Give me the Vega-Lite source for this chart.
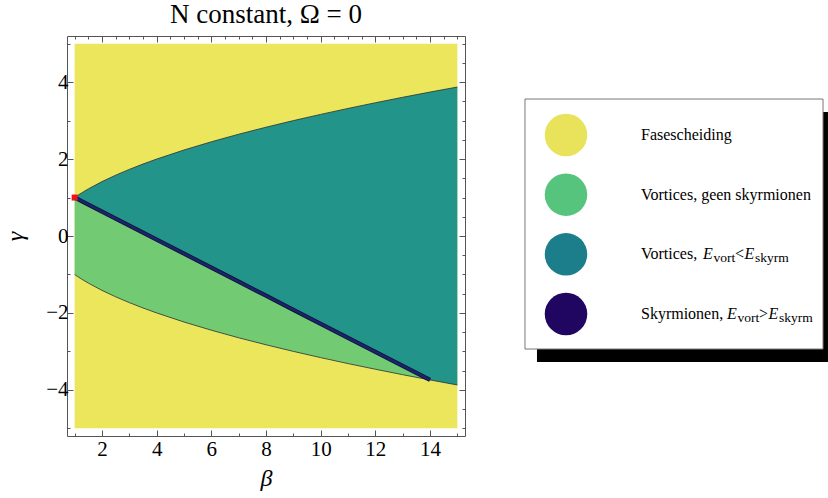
{
  "$schema": "https://vega.github.io/schema/vega-lite/v6.json",
  "width": 398,
  "height": 400,
  "autosize": {"type": "none"},
  "padding": {"left": 67, "top": 36, "right": 363, "bottom": 62},
  "background": "white",
  "config": {"view": {"stroke": "#555555", "strokeWidth": 1}, "font": "Liberation Serif"},
  "title": {"text": "N constant, Ω = 0", "font": "Liberation Serif", "fontSize": 27, "fontWeight": "normal", "color": "black", "anchor": "middle", "offset": 9, "baseline": "alphabetic", "dy": 26},
  "datasets": {
    "frame": [{"b": 1, "b2": 15, "g": -5, "g2": 5}],
    "regions": [
      {"b": 1, "up": 1, "mid": 1, "low": -1},
      {"b": 1.1, "up": 1.049, "mid": 0.964, "low": -1.049},
      {"b": 1.25, "up": 1.118, "mid": 0.909, "low": -1.118},
      {"b": 1.5, "up": 1.225, "mid": 0.818, "low": -1.225},
      {"b": 2, "up": 1.414, "mid": 0.635, "low": -1.414},
      {"b": 2.5, "up": 1.581, "mid": 0.453, "low": -1.581},
      {"b": 3, "up": 1.732, "mid": 0.271, "low": -1.732},
      {"b": 3.5, "up": 1.871, "mid": 0.088, "low": -1.871},
      {"b": 4, "up": 2, "mid": -0.094, "low": -2},
      {"b": 5, "up": 2.236, "mid": -0.459, "low": -2.236},
      {"b": 6, "up": 2.449, "mid": -0.824, "low": -2.449},
      {"b": 7, "up": 2.646, "mid": -1.189, "low": -2.646},
      {"b": 8, "up": 2.828, "mid": -1.553, "low": -2.828},
      {"b": 9, "up": 3, "mid": -1.918, "low": -3},
      {"b": 10, "up": 3.162, "mid": -2.283, "low": -3.162},
      {"b": 11, "up": 3.317, "mid": -2.648, "low": -3.317},
      {"b": 12, "up": 3.464, "mid": -3.012, "low": -3.464},
      {"b": 13, "up": 3.606, "mid": -3.377, "low": -3.606},
      {"b": 14, "up": 3.742, "mid": -3.742, "low": -3.742},
      {"b": 15, "up": 3.873, "mid": -3.873, "low": -3.873}
    ],
    "legend": [
      {"rank": 1, "label": "Fasescheiding"},
      {"rank": 2, "label": "Vortices, geen skyrmionen"},
      {"rank": 3, "label": "Vortices,", "e1": "E", "s1": "vort", "rel": "<", "e2": "E", "s2": "skyrm"},
      {"rank": 4, "label": "Skyrmionen,", "e1": "E", "s1": "vort", "rel": ">", "e2": "E", "s2": "skyrm"}
    ]
  },
  "layer": [
    {
      "resolve": {"axis": {"x": "independent", "y": "independent"}},
      "layer": [
        {
          "data": {"name": "frame"},
          "mark": {"type": "rect", "color": "#EBE65B"},
          "encoding": {
            "x": {"field": "b", "type": "quantitative", "scale": {"domain": [0.72, 15.28], "nice": false, "zero": false},
              "axis": {"orient": "bottom", "values": [1,1.5,2,2.5,3,3.5,4,4.5,5,5.5,6,6.5,7,7.5,8,8.5,9,9.5,10,10.5,11,11.5,12,12.5,13,13.5,14,14.5,15],
                "format": "d", "labelExpr": "datum.value % 2 === 0 ? datum.label : ''",
                "tickSize": {"condition": {"test": "datum.value % 2 === 0", "value": -6}, "value": -3},
                "tickColor": "#555555", "domain": false, "grid": false, "labelFont": "Liberation Serif", "labelFontSize": 21, "labelColor": "black",
                "labelPadding": 8, "labelOverlap": false, "labelFlush": false,
                "title": "β", "titleFont": "Liberation Serif", "titleFontStyle": "italic", "titleFontWeight": "normal", "titleFontSize": 24, "titleColor": "black", "titlePadding": 4}},
            "x2": {"field": "b2"},
            "y": {"field": "g", "type": "quantitative", "scale": {"domain": [-5.2, 5.2], "nice": false, "zero": false},
              "axis": {"orient": "left", "values": [-5,-4.5,-4,-3.5,-3,-2.5,-2,-1.5,-1,-0.5,0,0.5,1,1.5,2,2.5,3,3.5,4,4.5,5],
                "format": "d", "labelExpr": "datum.value % 2 === 0 ? datum.label : ''",
                "tickSize": {"condition": {"test": "datum.value % 2 === 0", "value": -6}, "value": -3},
                "tickColor": "#555555", "domain": false, "grid": false, "labelFont": "Liberation Serif", "labelFontSize": 21, "labelColor": "black",
                "labelPadding": 5, "labelOverlap": false, "labelFlush": false,
                "title": "γ", "titleFont": "Liberation Serif", "titleFontStyle": "italic", "titleFontWeight": "normal", "titleFontSize": 24, "titleColor": "black", "titlePadding": 18}},
            "y2": {"field": "g2"}
          }
        },
        {
          "data": {"name": "regions"},
          "mark": {"type": "area", "color": "#22948A"},
          "encoding": {
            "x": {"field": "b", "type": "quantitative", "scale": {"domain": [0.72, 15.28], "nice": false, "zero": false},
              "axis": {"orient": "top", "values": [1,1.5,2,2.5,3,3.5,4,4.5,5,5.5,6,6.5,7,7.5,8,8.5,9,9.5,10,10.5,11,11.5,12,12.5,13,13.5,14,14.5,15],
                "labels": false, "title": null, "domain": false, "grid": false, "tickColor": "#555555",
                "tickSize": {"condition": {"test": "datum.value % 2 === 0", "value": -6}, "value": -3}}},
            "y": {"field": "up", "type": "quantitative", "scale": {"domain": [-5.2, 5.2], "nice": false, "zero": false},
              "axis": {"orient": "right", "values": [-5,-4.5,-4,-3.5,-3,-2.5,-2,-1.5,-1,-0.5,0,0.5,1,1.5,2,2.5,3,3.5,4,4.5,5],
                "labels": false, "title": null, "domain": false, "grid": false, "tickColor": "#555555",
                "tickSize": {"condition": {"test": "datum.value % 2 === 0", "value": -6}, "value": -3}}},
            "y2": {"field": "mid"}
          }
        },
        {
          "data": {"name": "regions"},
          "transform": [{"filter": "datum.b <= 14"}],
          "mark": {"type": "area", "color": "#72CB72"},
          "encoding": {
            "x": {"field": "b", "type": "quantitative", "scale": {"domain": [0.72, 15.28], "nice": false, "zero": false}, "axis": null},
            "y": {"field": "mid", "type": "quantitative", "scale": {"domain": [-5.2, 5.2], "nice": false, "zero": false}, "axis": null},
            "y2": {"field": "low"}
          }
        },
        {
          "data": {"name": "regions"},
          "mark": {"type": "line", "color": "#2E3A3A", "strokeWidth": 1, "opacity": 0.85},
          "encoding": {
            "x": {"field": "b", "type": "quantitative", "scale": {"domain": [0.72, 15.28], "nice": false, "zero": false}, "axis": null},
            "y": {"field": "up", "type": "quantitative", "scale": {"domain": [-5.2, 5.2], "nice": false, "zero": false}, "axis": null}
          }
        },
        {
          "data": {"name": "regions"},
          "mark": {"type": "line", "color": "#2E3A3A", "strokeWidth": 1, "opacity": 0.85},
          "encoding": {
            "x": {"field": "b", "type": "quantitative", "scale": {"domain": [0.72, 15.28], "nice": false, "zero": false}, "axis": null},
            "y": {"field": "low", "type": "quantitative", "scale": {"domain": [-5.2, 5.2], "nice": false, "zero": false}, "axis": null}
          }
        },
        {
          "data": {"name": "regions"},
          "transform": [{"filter": "datum.b <= 14"}],
          "mark": {"type": "line", "color": "#0E1336", "strokeWidth": 4.2},
          "encoding": {
            "x": {"field": "b", "type": "quantitative", "scale": {"domain": [0.72, 15.28], "nice": false, "zero": false}, "axis": null},
            "y": {"field": "mid", "type": "quantitative", "scale": {"domain": [-5.2, 5.2], "nice": false, "zero": false}, "axis": null}
          }
        },
        {
          "data": {"name": "regions"},
          "transform": [{"filter": "datum.b <= 14"}],
          "mark": {"type": "line", "color": "#1C2470", "strokeWidth": 2.4},
          "encoding": {
            "x": {"field": "b", "type": "quantitative", "scale": {"domain": [0.72, 15.28], "nice": false, "zero": false}, "axis": null},
            "y": {"field": "mid", "type": "quantitative", "scale": {"domain": [-5.2, 5.2], "nice": false, "zero": false}, "axis": null}
          }
        },
        {
          "data": {"name": "regions"},
          "transform": [{"filter": "datum.b == 1"}],
          "mark": {"type": "square", "color": "#E8141E", "size": 36, "opacity": 1},
          "encoding": {
            "x": {"field": "b", "type": "quantitative", "scale": {"domain": [0.72, 15.28], "nice": false, "zero": false}, "axis": null},
            "y": {"field": "up", "type": "quantitative", "scale": {"domain": [-5.2, 5.2], "nice": false, "zero": false}, "axis": null}
          }
        }
      ]
    },
    {
      "data": {"name": "legend"},
      "encoding": {
        "x": {"datum": 1, "type": "quantitative", "scale": {"domain": [0, 1], "range": [499, 574], "nice": false, "zero": false}, "axis": null},
        "y": {"field": "rank", "type": "quantitative", "scale": {"domain": [1, 4], "range": [99, 278], "nice": false, "zero": false}, "axis": null}
      },
      "layer": [
        {
          "transform": [{"filter": "datum.rank == 1"}],
          "mark": {"type": "rect", "color": "black"},
          "encoding": {
            "x": {"datum": -0.387, "type": "quantitative", "scale": {"domain": [0, 1], "range": [499, 574], "nice": false, "zero": false}, "axis": null},
            "x2": {"datum": 3.493},
            "y": {"datum": 0.615, "type": "quantitative", "scale": {"domain": [1, 4], "range": [99, 278], "nice": false, "zero": false}, "axis": null},
            "y2": {"datum": 4.804}
          }
        },
        {
          "transform": [{"filter": "datum.rank == 1"}],
          "mark": {"type": "rect", "fill": "white", "stroke": "#777777", "strokeWidth": 1},
          "encoding": {
            "x": {"datum": -0.547, "type": "quantitative", "scale": {"domain": [0, 1], "range": [499, 574], "nice": false, "zero": false}, "axis": null},
            "x2": {"datum": 3.427},
            "y": {"datum": 0.397, "type": "quantitative", "scale": {"domain": [1, 4], "range": [99, 278], "nice": false, "zero": false}, "axis": null},
            "y2": {"datum": 4.587}
          }
        },
        {
          "mark": {"type": "point", "filled": true, "opacity": 1, "size": 1810, "shape": "circle"},
          "encoding": {
            "x": {"datum": 0, "type": "quantitative", "scale": {"domain": [0, 1], "range": [499, 574], "nice": false, "zero": false}, "axis": null},
            "color": {"field": "rank", "type": "ordinal", "scale": {"domain": [1, 2, 3, 4], "range": ["#E8E35A", "#56C47C", "#1C7E8A", "#200660"]}, "legend": null}
          }
        },
        {
          "mark": {"type": "text", "align": "left", "baseline": "middle", "font": "Liberation Serif", "fontSize": 16, "color": "black"},
          "encoding": {"text": {"field": "label"}}
        },
        {
          "transform": [{"filter": "datum.rank == 3"}],
          "mark": {"type": "text", "align": "left", "baseline": "middle", "font": "Liberation Serif", "fontSize": 16, "fontStyle": "italic", "color": "black", "dx": 62},
          "encoding": {"text": {"field": "e1"}}
        },
        {
          "transform": [{"filter": "datum.rank == 3"}],
          "mark": {"type": "text", "align": "left", "baseline": "middle", "font": "Liberation Serif", "fontSize": 13.5, "color": "black", "dx": 72.5, "dy": 4},
          "encoding": {"text": {"field": "s1"}}
        },
        {
          "transform": [{"filter": "datum.rank == 3"}],
          "mark": {"type": "text", "align": "left", "baseline": "middle", "font": "Liberation Serif", "fontSize": 16, "color": "black", "dx": 94},
          "encoding": {"text": {"field": "rel"}}
        },
        {
          "transform": [{"filter": "datum.rank == 3"}],
          "mark": {"type": "text", "align": "left", "baseline": "middle", "font": "Liberation Serif", "fontSize": 16, "fontStyle": "italic", "color": "black", "dx": 103.5},
          "encoding": {"text": {"field": "e2"}}
        },
        {
          "transform": [{"filter": "datum.rank == 3"}],
          "mark": {"type": "text", "align": "left", "baseline": "middle", "font": "Liberation Serif", "fontSize": 13.5, "color": "black", "dx": 114, "dy": 4},
          "encoding": {"text": {"field": "s2"}}
        },
        {
          "transform": [{"filter": "datum.rank == 4"}],
          "mark": {"type": "text", "align": "left", "baseline": "middle", "font": "Liberation Serif", "fontSize": 16, "fontStyle": "italic", "color": "black", "dx": 86},
          "encoding": {"text": {"field": "e1"}}
        },
        {
          "transform": [{"filter": "datum.rank == 4"}],
          "mark": {"type": "text", "align": "left", "baseline": "middle", "font": "Liberation Serif", "fontSize": 13.5, "color": "black", "dx": 96.5, "dy": 4},
          "encoding": {"text": {"field": "s1"}}
        },
        {
          "transform": [{"filter": "datum.rank == 4"}],
          "mark": {"type": "text", "align": "left", "baseline": "middle", "font": "Liberation Serif", "fontSize": 16, "color": "black", "dx": 118},
          "encoding": {"text": {"field": "rel"}}
        },
        {
          "transform": [{"filter": "datum.rank == 4"}],
          "mark": {"type": "text", "align": "left", "baseline": "middle", "font": "Liberation Serif", "fontSize": 16, "fontStyle": "italic", "color": "black", "dx": 127.5},
          "encoding": {"text": {"field": "e2"}}
        },
        {
          "transform": [{"filter": "datum.rank == 4"}],
          "mark": {"type": "text", "align": "left", "baseline": "middle", "font": "Liberation Serif", "fontSize": 13.5, "color": "black", "dx": 138, "dy": 4},
          "encoding": {"text": {"field": "s2"}}
        }
      ]
    }
  ],
  "resolve": {"scale": {"x": "independent", "y": "independent", "color": "independent"}}
}
